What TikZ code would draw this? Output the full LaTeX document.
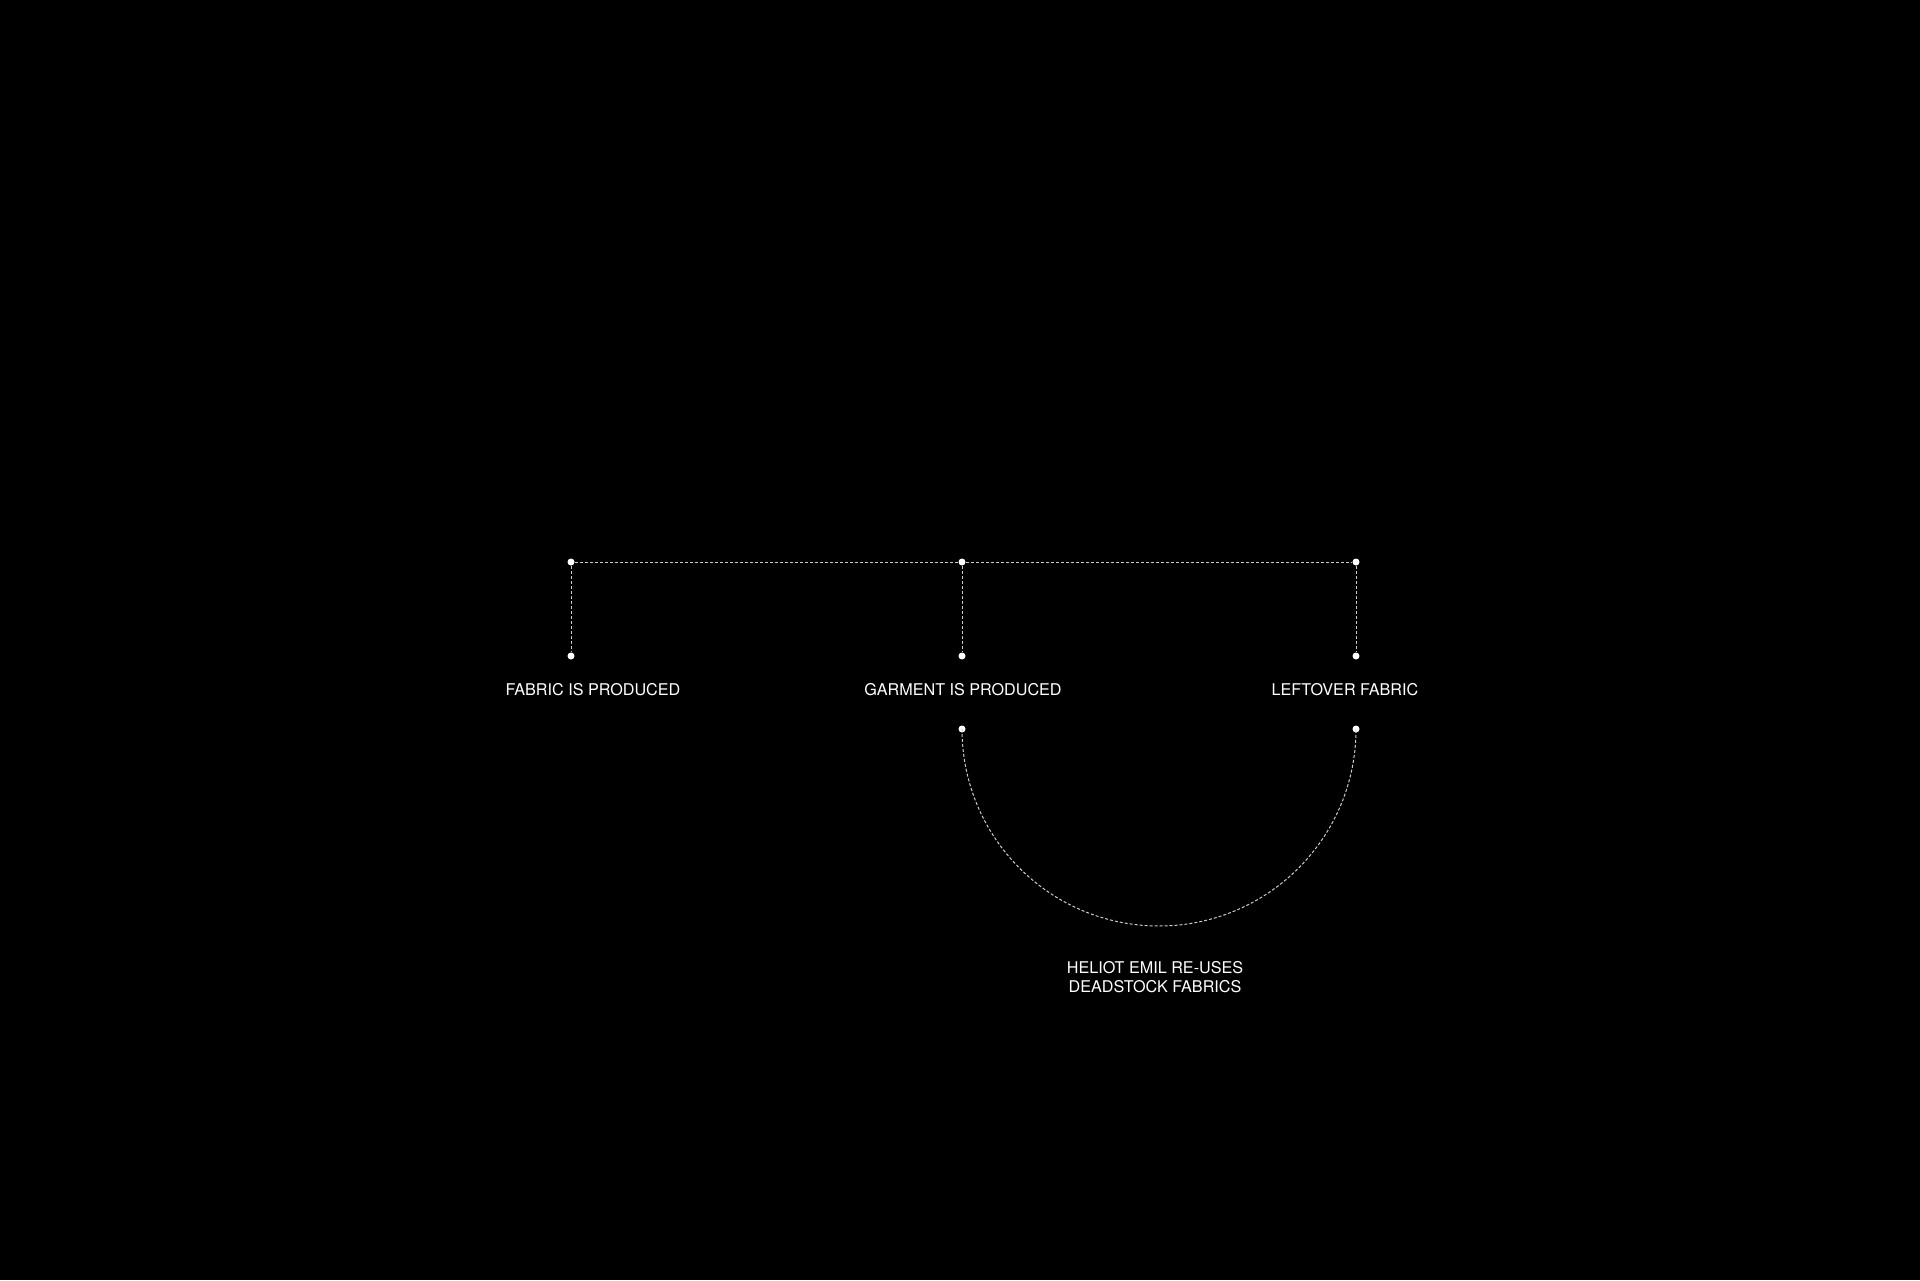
\documentclass[tikz,border=0pt]{standalone}
\usepackage{fontspec}
\setmainfont{TeX Gyre Heros}
\begin{document}
\begin{tikzpicture}[x=0.1mm,y=-0.1mm,
  dot/.style={circle,fill=white,draw=none,inner sep=0pt,minimum size=0.7mm},
  dashline/.style={draw=white!80!black,line width=0.1mm,dash pattern=on 0.3mm off 0.2mm},
  lbl/.style={text=white,font=\fontsize{4.6}{5.6}\selectfont,align=center,inner sep=0pt}]
\fill[black] (0,0) rectangle (1920,1280);
\useasboundingbox (0,0) rectangle (1920,1280);
% dots
\node[dot] (t1) at (571,562) {};
\node[dot] (t2) at (962,562) {};
\node[dot] (t3) at (1356,562) {};
\node[dot] (m1) at (571,656) {};
\node[dot] (m2) at (962,656) {};
\node[dot] (m3) at (1356,656) {};
\node[dot] (l2) at (962,729) {};
\node[dot] (l3) at (1356,729) {};
% connectors
\draw[dashline] (t1) -- (t2);
\draw[dashline] (t2) -- (t3);
\draw[dashline] (t1) -- (m1);
\draw[dashline] (t2) -- (m2);
\draw[dashline] (t3) -- (m3);
\draw[dashline] (l2.center) arc[start angle=180,end angle=0,radius=197];
% labels
\node[lbl] (a) at (593,690) {FABRIC IS PRODUCED};
\node[lbl] (b) at (963,690) {GARMENT IS PRODUCED};
\node[lbl] (c) at (1345,690) {LEFTOVER FABRIC};
\node[lbl] (d) at (1155,977) {HELIOT EMIL RE-USES\\DEADSTOCK FABRICS};
\end{tikzpicture}
\end{document}
